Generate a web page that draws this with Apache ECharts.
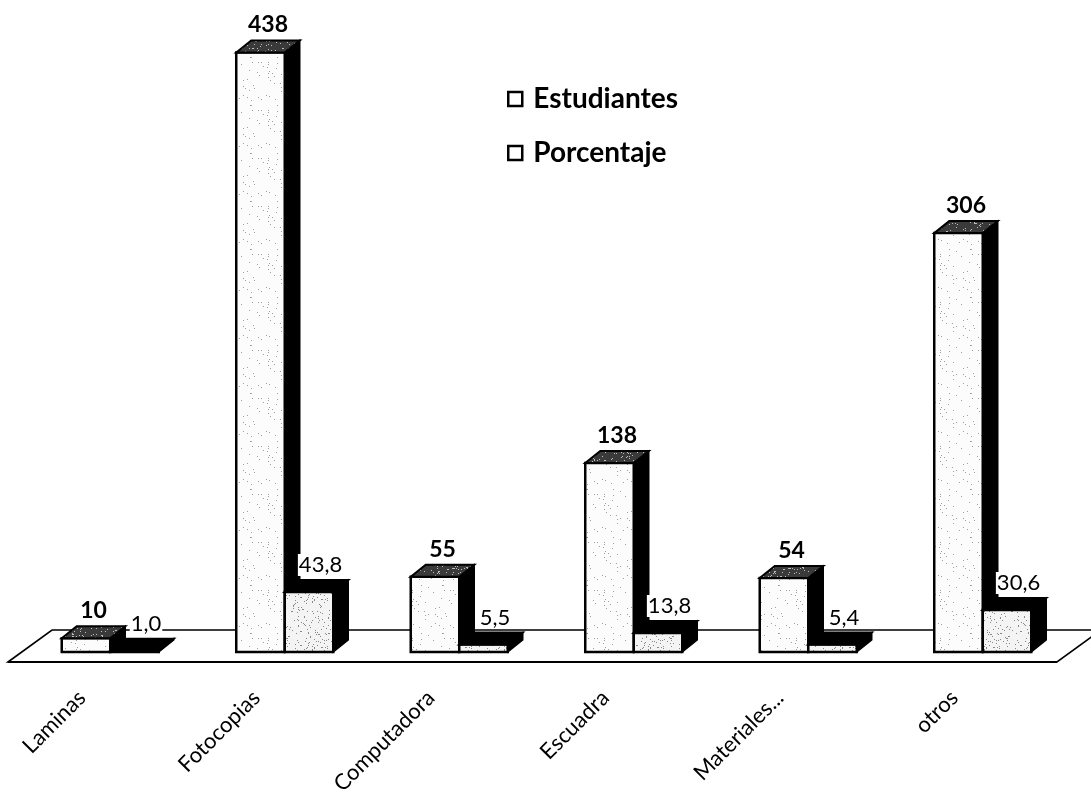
<!DOCTYPE html>
<html>
<head>
<meta charset="utf-8">
<script src="https://cdn.jsdelivr.net/npm/echarts@6/dist/echarts.min.js"></script>
<style>
  html, body { margin: 0; padding: 0; background: #ffffff; }
  #chart { width: 1091px; height: 809px; }
</style>
</head>
<body>
<div id="chart"></div>
<script>
// Materiales usados por los estudiantes
const categories = ['Laminas', 'Fotocopias', 'Computadora', 'Escuadra', 'Materiales...', 'otros'];
const estudiantes = [10, 438, 55, 138, 54, 306];
const porcentaje = [1.0, 43.8, 5.5, 13.8, 5.4, 30.6];
const seriesNames = ['Estudiantes', 'Porcentaje'];

const FONT = 'Lato, "Open Sans", sans-serif';

// small speckled textures for the faces of the columns
function speckle(bg, dot, count, seed) {
  const c = document.createElement('canvas');
  c.width = 48; c.height = 48;
  const ctx = c.getContext('2d');
  ctx.fillStyle = bg;
  ctx.fillRect(0, 0, 48, 48);
  let s = seed;
  const next = () => { s = (s * 1103515245 + 12345) % 2147483648; return s / 2147483648; };
  ctx.fillStyle = dot;
  for (let i = 0; i < count; i++) {
    ctx.fillRect(Math.floor(next() * 48), Math.floor(next() * 48), 1, 1);
  }
  return { image: c, repeat: 'repeat' };
}
const frontFill = speckle('#fcfcfc', '#a0a0a0', 45, 7);
const frontFillDense = speckle('#f4f4f4', '#888888', 140, 19);
const topFillLight = speckle('#3a3a3a', '#bdbdbd', 160, 3);

const DEPTH_X = 15, DEPTH_Y = 12;

function fmtPct(v) { return v.toFixed(1).replace('.', ','); }

// one 3D column: front face, top face, right side, and value label on top
function makeColumn(side, topFill, fnt, fmt, withBg) {
  return function (params, api) {
    const idx = api.value(0);
    const val = api.value(1);
    const base = api.coord([idx, 0]);
    const top = api.coord([idx, val]);
    const band = api.size([1, 0])[0];
    const w = band * 0.278;
    const x0 = base[0] + side * w;
    const yb = base[1], yt = top[1];
    const x1 = x0 + w;
    const children = [
      {
        type: 'polygon',
        shape: { points: [[x1, yt], [x1 + DEPTH_X, yt - DEPTH_Y], [x1 + DEPTH_X, yb - DEPTH_Y], [x1, yb]] },
        style: { fill: '#000000', stroke: '#000000', lineWidth: 1.5 }
      },
      {
        type: 'rect',
        shape: { x: x0, y: yt, width: w, height: yb - yt },
        style: { fill: side < 0 ? frontFill : frontFillDense, stroke: '#000000', lineWidth: 2.5 }
      },
      {
        type: 'polygon',
        shape: { points: [[x0, yt], [x0 + DEPTH_X, yt - DEPTH_Y], [x1 + DEPTH_X, yt - DEPTH_Y], [x1, yt]] },
        style: { fill: topFill, stroke: '#000000', lineWidth: 2 }
      },
      {
        type: 'text',
        x: x0 + w / 2 + DEPTH_X / 2 + (withBg ? 4 : 0),
        y: yt - DEPTH_Y - 4,
        style: {
          text: fmt(val),
          font: fnt,
          fill: '#000000',
          align: 'center',
          verticalAlign: 'bottom',
          backgroundColor: withBg ? '#ffffff' : null,
          padding: withBg ? [0, 1, 0, 1] : 0
        }
      }
    ];
    return { type: 'group', children: children };
  };
}

// floor plane under the columns
function renderFloor(params, api) {
  const cs = params.coordSys;
  const base = api.coord([0, 0])[1];
  const left = cs.x, right = cs.x + cs.width;
  const yf = base + 10, yk = base - 22;
  return {
    type: 'group',
    children: [
      {
        type: 'polygon',
        shape: { points: [[left - 15, yf], [left + 29, yk], [right + 31, yk], [right - 13, yf]] },
        style: { fill: '#ffffff', stroke: '#000000', lineWidth: 1.6 }
      },
      {
        type: 'line',
        shape: { x1: left - 15, y1: yf, x2: right - 13, y2: yf },
        style: { stroke: '#000000', lineWidth: 2.2 }
      }
    ]
  };
}

const chart = echarts.init(document.getElementById('chart'), null, { renderer: 'canvas' });
chart.setOption({
  backgroundColor: '#ffffff',
  animation: false,
  grid: { left: 23, right: 21, top: 36, bottom: 157 },
  legend: {
    orient: 'vertical',
    left: 502,
    top: 80,
    itemWidth: 14,
    itemHeight: 14,
    itemGap: 26,
    icon: 'rect',
    textStyle: { fontFamily: FONT, fontWeight: 'bold', fontSize: 28, color: '#000000', padding: [0, 0, 0, 6] },
    data: seriesNames.map(n => ({ name: n, itemStyle: { color: '#ffffff', borderColor: '#000000', borderWidth: 2.5 } }))
  },
  xAxis: {
    type: 'category',
    data: categories,
    axisLine: { show: false },
    axisTick: { show: false },
    axisLabel: {
      rotate: 45,
      interval: 0,
      margin: 14,
      padding: [0, 40, 0, 0],
      fontFamily: FONT,
      fontSize: 22,
      color: '#000000'
    }
  },
  yAxis: {
    type: 'value',
    min: 0,
    max: 450,
    show: false,
    splitLine: { show: false }
  },
  series: [
    {
      name: 'piso',
      type: 'custom',
      renderItem: renderFloor,
      data: [[0, 0]],
      clip: false,
      silent: true,
      z: 1
    },
    {
      name: seriesNames[0],
      type: 'custom',
      renderItem: makeColumn(-1, topFillLight, 'bold 23px ' + FONT, v => String(v), false),
      data: estudiantes.map((v, i) => [i, v]),
      clip: false,
      z: 2
    },
    {
      name: seriesNames[1],
      type: 'custom',
      renderItem: makeColumn(0, '#000000', '22px ' + FONT, fmtPct, true),
      data: porcentaje.map((v, i) => [i, v]),
      clip: false,
      z: 3
    }
  ]
});
</script>
</body>
</html>
